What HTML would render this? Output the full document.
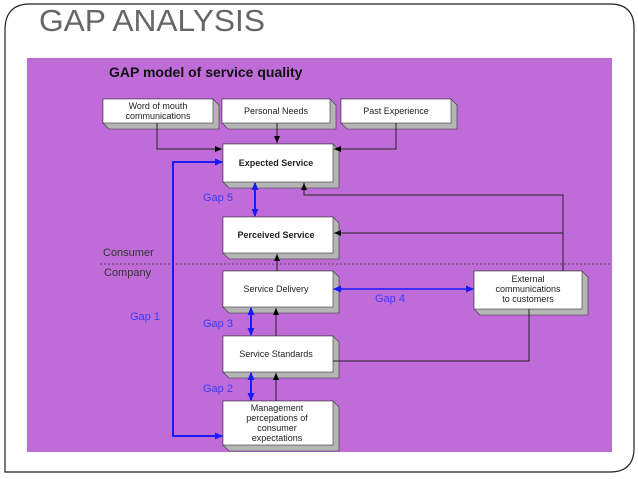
<!DOCTYPE html>
<html><head><meta charset="utf-8"><style>
html,body{margin:0;padding:0;background:#fff;width:638px;height:479px;overflow:hidden}
svg{display:block;font-family:"Liberation Sans",Arial,sans-serif}
</style></head><body>
<svg width="638" height="479" viewBox="0 0 638 479" xmlns="http://www.w3.org/2000/svg">
<defs>
<marker id="ab" markerWidth="8" markerHeight="8" refX="7" refY="4" orient="auto" markerUnits="userSpaceOnUse"><path d="M0,1 L7,4 L0,7z" fill="#000"/></marker>
<marker id="au" markerWidth="8" markerHeight="8" refX="7" refY="4" orient="auto-start-reverse" markerUnits="userSpaceOnUse"><path d="M0,0.5 L8,4 L0,7.5z" fill="#1a1aff"/></marker>
</defs>
<path d="M30,4 H610 Q634,4 634,28 V448 Q634,472 610,472 H5 V30 Q5,4 30,4Z" fill="none" stroke="#222" stroke-width="1.2"/>
<text x="39" y="31" font-size="31" fill="#666" textLength="226" lengthAdjust="spacingAndGlyphs">GAP ANALYSIS</text>
<rect x="27" y="58" width="585" height="394" fill="#c06cd8"/>
<text x="109" y="77" font-size="14" font-weight="bold" fill="#111">GAP model of service quality</text>
<g font-size="9" fill="#222" text-anchor="middle">
<g>
<path d="M103,99 h110 l6,6 v24 h-110 l-6,-6z" fill="#b5b5b5" stroke="#333" stroke-width=".6"/><rect x="103" y="99" width="110" height="24" fill="#fff" stroke="#333" stroke-width=".6"/>
<text x="158" y="109">Word of mouth</text><text x="158" y="119">communications</text>
<path d="M222,99 h108 l6,6 v24 h-108 l-6,-6z" fill="#b5b5b5" stroke="#333" stroke-width=".6"/><rect x="222" y="99" width="108" height="24" fill="#fff" stroke="#333" stroke-width=".6"/>
<text x="276" y="114">Personal Needs</text>
<path d="M341,99 h110 l6,6 v24 h-110 l-6,-6z" fill="#b5b5b5" stroke="#333" stroke-width=".6"/><rect x="341" y="99" width="110" height="24" fill="#fff" stroke="#333" stroke-width=".6"/>
<text x="396" y="114">Past Experience</text>

<path d="M223,144 h110 l6,6 v38 h-110 l-6,-6z" fill="#b5b5b5" stroke="#333" stroke-width=".6"/><rect x="223" y="144" width="110" height="38" fill="#fff" stroke="#333" stroke-width=".6"/>
<text x="276" y="166" font-weight="bold">Expected Service</text>
<path d="M223,217 h110 l6,6 v36 h-110 l-6,-6z" fill="#b5b5b5" stroke="#333" stroke-width=".6"/><rect x="223" y="217" width="110" height="36" fill="#fff" stroke="#333" stroke-width=".6"/>
<text x="276" y="238" font-weight="bold">Perceived Service</text>
<path d="M223,271 h110 l6,6 v36 h-110 l-6,-6z" fill="#b5b5b5" stroke="#333" stroke-width=".6"/><rect x="223" y="271" width="110" height="36" fill="#fff" stroke="#333" stroke-width=".6"/>
<text x="276" y="292">Service Delivery</text>
<path d="M223,336 h110 l6,6 v36 h-110 l-6,-6z" fill="#b5b5b5" stroke="#333" stroke-width=".6"/><rect x="223" y="336" width="110" height="36" fill="#fff" stroke="#333" stroke-width=".6"/>
<text x="276" y="357">Service Standards</text>
<path d="M223,401 h110 l6,6 v44 h-110 l-6,-6z" fill="#b5b5b5" stroke="#333" stroke-width=".6"/><rect x="223" y="401" width="110" height="44" fill="#fff" stroke="#333" stroke-width=".6"/>
<text x="277" y="411">Management</text><text x="277" y="421">percepations of</text><text x="277" y="431">consumer</text><text x="277" y="441">expectations</text>
<path d="M474,271 h108 l6,6 v38 h-108 l-6,-6z" fill="#b5b5b5" stroke="#333" stroke-width=".6"/><rect x="474" y="271" width="108" height="38" fill="#fff" stroke="#333" stroke-width=".6"/>
<text x="528" y="282">External</text><text x="528" y="292">communications</text><text x="528" y="302">to customers</text>
</g>
</g>
<g stroke="#222" stroke-width="1" fill="none">
<path d="M157,123 V149 H222" marker-end="url(#ab)"/>
<path d="M277,123 V143" marker-end="url(#ab)"/>
<path d="M396,123 V149 H334" marker-end="url(#ab)"/>
<path d="M277,271 V254" marker-end="url(#ab)"/>
<path d="M276,336 V308" marker-end="url(#ab)"/>
<path d="M276,401 V373" marker-end="url(#ab)"/>
<path d="M563,271 V195 H304 V183" marker-end="url(#ab)"/>
<path d="M563,233 H334" marker-end="url(#ab)"/>
<path d="M333,361 H529 V309"/>
</g>
<line x1="100" y1="264" x2="610" y2="264" stroke="#333" stroke-width=".8" stroke-dasharray="2,2"/>
<text x="103" y="256" font-size="11" fill="#333">Consumer</text>
<text x="104" y="276" font-size="11" fill="#333">Company</text>
<g stroke="#1a1aff" stroke-width="2" fill="none">
<path d="M222,436 H173 V162 H222" marker-start="url(#au)" marker-end="url(#au)"/>
<path d="M255,183 V216" marker-start="url(#au)" marker-end="url(#au)"/>
<path d="M251,308 V335" marker-start="url(#au)" marker-end="url(#au)"/>
<path d="M251,373 V400" marker-start="url(#au)" marker-end="url(#au)"/>
<path d="M334,289 H473" stroke-width="1.5" marker-start="url(#au)" marker-end="url(#au)"/>
</g>
<g font-size="11" fill="#3a3aff">
<text x="130" y="320">Gap 1</text>
<text x="203" y="201">Gap 5</text>
<text x="203" y="327">Gap 3</text>
<text x="203" y="392">Gap 2</text>
<text x="375" y="302">Gap 4</text>
</g>
</svg>
</body></html>
